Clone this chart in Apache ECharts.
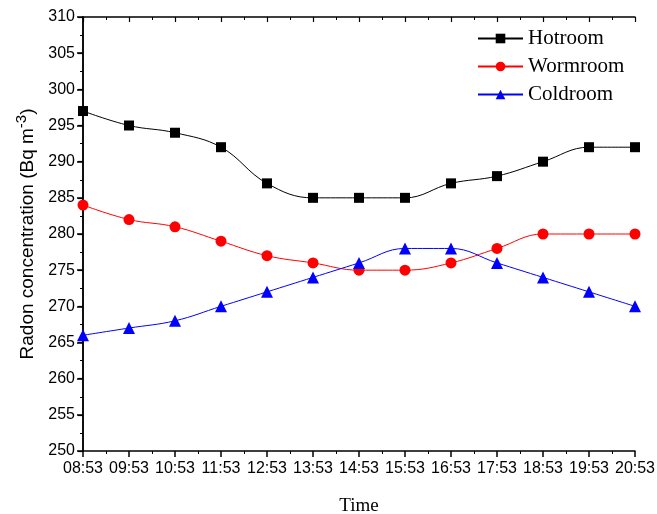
<!DOCTYPE html>
<html>
<head>
<meta charset="utf-8">
<script src="https://cdn.jsdelivr.net/npm/echarts@6/dist/echarts.min.js"></script>
<style>
  html, body { margin: 0; padding: 0; background: #fff; }
  #main { width: 657px; height: 514px; }
</style>
</head>
<body>
<div id="main"></div>
<script>
// data
var times = ['08:53','09:53','10:53','11:53','12:53','13:53','14:53','15:53','16:53','17:53','18:53','19:53','20:53'];
var hotroom  = [297, 295, 294, 292, 287, 285, 285, 285, 287, 288, 290, 292, 292];
var wormroom = [284, 282, 281, 279, 277, 276, 275, 275, 276, 278, 280, 280, 280];
var coldroom = [266, 267, 268, 270, 272, 274, 276, 278, 278, 276, 274, 272, 270];

function pairs(arr) {
  return arr.map(function (v, i) { return [i, v]; });
}

var chart = echarts.init(document.getElementById('main'));

var sansFont = 'Liberation Sans, Arial, sans-serif';
var serifFont = 'Liberation Serif, Times New Roman, serif';

var option = {
  animation: false,
  grid: { left: 83, right: 22, top: 17, bottom: 63, outerBoundsMode: 'none' },
  legend: {
    left: 477,
    top: 28,
    padding: 0,
    orient: 'vertical',
    itemWidth: 45,
    itemHeight: 12,
    itemGap: 7,
    textStyle: { fontFamily: serifFont, fontSize: 21, color: '#000' },
    data: ['Hotroom', 'Wormroom', 'Coldroom']
  },
  xAxis: [{
    type: 'value',
    min: 0, max: times.length - 1, interval: 1,
    name: 'Time',
    nameLocation: 'middle',
    nameGap: 46,
    nameTextStyle: { fontFamily: serifFont, fontSize: 19, color: '#000' },
    axisLine: { lineStyle: { color: '#000', width: 1.5 } },
    axisTick: { inside: false, length: 6, lineStyle: { color: '#000', width: 1.5 } },
    minorTick: { show: true, splitNumber: 2, length: 3, lineStyle: { color: '#000', width: 1 } },
    axisLabel: {
      fontFamily: sansFont, fontSize: 16, color: '#000', margin: 10,
      formatter: function (v) { return times[v] || ''; }
    },
    splitLine: { show: false }
  }, {
    type: 'value',
    position: 'top',
    min: 0, max: times.length - 1, interval: 1,
    axisLine: { show: true, lineStyle: { color: '#000', width: 1.5 } },
    axisTick: { inside: true, length: 5, lineStyle: { color: '#000', width: 1.2 } },
    minorTick: { show: true, splitNumber: 2, length: 3, lineStyle: { color: '#000', width: 1 } },
    axisLabel: { show: false },
    splitLine: { show: false }
  }],
  yAxis: [{
    type: 'value',
    min: 250, max: 310, interval: 5,
    name: '{n|Radon concentration (Bq m}{s|-3}{n|)}',
    nameLocation: 'middle',
    nameGap: 40,
    nameTextStyle: {
      rich: {
        n: { fontFamily: sansFont, fontSize: 19, color: '#000' },
        s: { fontFamily: sansFont, fontSize: 15, color: '#000', verticalAlign: 'bottom', padding: [0, 0, 12, 0] }
      }
    },
    axisLine: { show: true, lineStyle: { color: '#000', width: 1.5 } },
    axisTick: { inside: false, length: 6, lineStyle: { color: '#000', width: 1.5 } },
    minorTick: { show: true, splitNumber: 2, length: 3, lineStyle: { color: '#000', width: 1 } },
    axisLabel: { fontFamily: sansFont, fontSize: 16, color: '#000', margin: 8 },
    splitLine: { show: false }
  }, {
    type: 'value',
    position: 'right',
    min: 250, max: 310, interval: 5,
    axisLine: { show: true, lineStyle: { color: '#000', width: 1.5 } },
    axisTick: { inside: true, length: 5, lineStyle: { color: '#000', width: 1.2 } },
    minorTick: { show: true, splitNumber: 2, length: 3, lineStyle: { color: '#000', width: 1 } },
    axisLabel: { show: false },
    splitLine: { show: false }
  }],
  series: [{
    name: 'Hotroom',
    type: 'line',
    smooth: 0.4,
    data: pairs(hotroom),
    symbol: 'rect',
    symbolSize: 10,
    itemStyle: { color: '#000' },
    lineStyle: { color: '#000', width: 1 }
  }, {
    name: 'Wormroom',
    type: 'line',
    smooth: 0.4,
    data: pairs(wormroom),
    symbol: 'circle',
    symbolSize: 11,
    itemStyle: { color: '#ff0000' },
    lineStyle: { color: '#ff0000', width: 1 }
  }, {
    name: 'Coldroom',
    type: 'line',
    smooth: 0.4,
    data: pairs(coldroom),
    symbol: 'triangle',
    symbolSize: 12,
    itemStyle: { color: '#0000ff' },
    lineStyle: { color: '#0000ff', width: 1 }
  }]
};

chart.setOption(option);
</script>
</body>
</html>
